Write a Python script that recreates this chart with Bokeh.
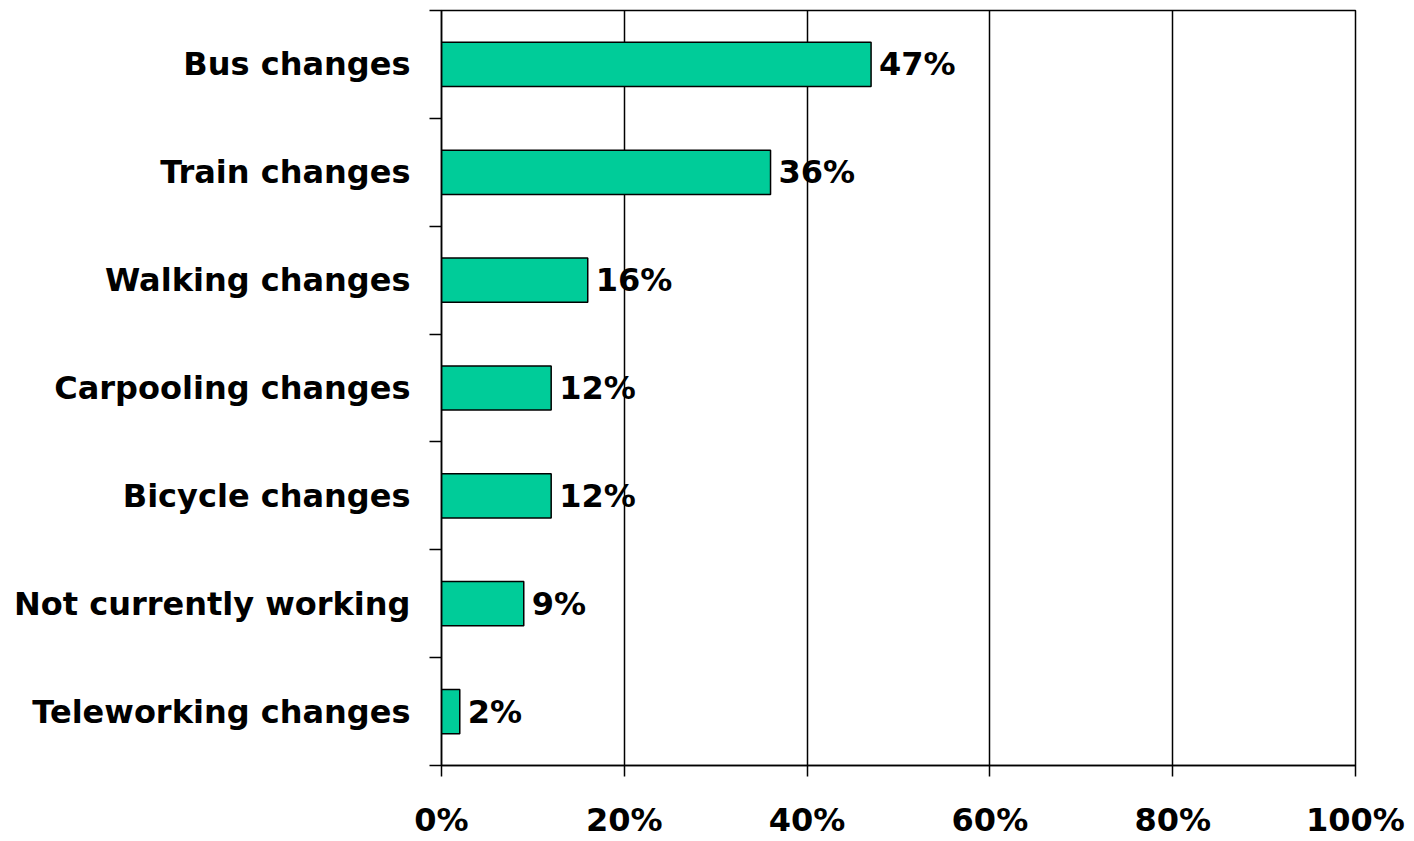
from bokeh.plotting import figure
from bokeh.models import FixedTicker, ColumnDataSource, Range1d, LabelSet
from bokeh.core.properties import value
from bokeh.embed import file_html
from bokeh.resources import INLINE

categories = ["Bus changes", "Train changes", "Walking changes", "Carpooling changes",
              "Bicycle changes", "Not currently working", "Teleworking changes"]
values = [47, 36, 16, 12, 12, 9, 2]
x_ticks = [0, 20, 40, 60, 80, 100]
x_tick_labels = ["0%", "20%", "40%", "60%", "80%", "100%"]

n = len(categories)
y_pos = [n - i - 0.5 for i in range(n)]
src = ColumnDataSource(dict(cat=categories, value=values, y=y_pos,
                            label=[f"{v}%" for v in values]))

FONT = "DejaVu Sans"
FS = "32px"
STYLE = "bold"

p = figure(width=1414, height=841, output_backend="svg", toolbar_location=None,
           x_range=Range1d(0, 100), y_range=Range1d(0, n),
           min_border_left=441, min_border_top=10, min_border_bottom=75,
           min_border_right=59)

p.hbar(y="y", left=0, right="value", height=0.41, source=src,
       fill_color="#00CC99", line_color="black", line_width=1.5)

labels = LabelSet(x="value", y="y", text="label", source=src, x_offset=8,
                  text_baseline="middle", text_align="left",
                  text_font=value(FONT), text_font_size=FS, text_font_style=STYLE,
                  text_color="black")
p.add_layout(labels)

# x axis
p.xaxis.ticker = FixedTicker(ticks=x_ticks)
p.xaxis.major_label_overrides = {t: l for t, l in zip(x_ticks, x_tick_labels)}
p.xaxis.major_tick_in = 0
p.xaxis.major_tick_out = 11
p.xaxis.minor_tick_line_color = None
p.xaxis.major_label_standoff = 24
p.xaxis.axis_line_width = 1.5
p.xaxis.major_tick_line_width = 1.5
p.xaxis.axis_line_color = "black"
p.xaxis.major_tick_line_color = "black"

# y axis: labels at category centres, tick marks at boundaries
p.yaxis.ticker = FixedTicker(ticks=y_pos, minor_ticks=list(range(n + 1)))
p.yaxis.major_label_overrides = {y: c for y, c in zip(y_pos, categories)}
p.yaxis.major_tick_in = 0
p.yaxis.major_tick_out = 0
p.yaxis.minor_tick_in = 0
p.yaxis.minor_tick_out = 12
p.yaxis.minor_tick_line_color = "black"
p.yaxis.minor_tick_line_width = 1.5
p.yaxis.major_label_standoff = 19
p.yaxis.axis_line_width = 1.5
p.yaxis.axis_line_color = "black"

for ax in (p.xaxis, p.yaxis):
    ax.major_label_text_font = FONT
    ax.major_label_text_font_size = FS
    ax.major_label_text_font_style = STYLE
    ax.major_label_text_color = "black"

p.xgrid.ticker = FixedTicker(ticks=x_ticks)
p.xgrid.grid_line_color = "black"
p.xgrid.grid_line_width = 1.5
p.ygrid.grid_line_color = None

p.outline_line_color = "black"
p.outline_line_width = 1.5
p.background_fill_color = "white"
p.border_fill_color = "white"

open("out.html", "w").write(file_html(p, INLINE))
